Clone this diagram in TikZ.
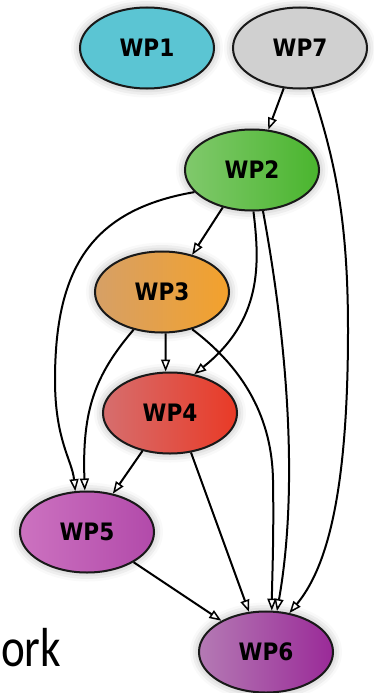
\documentclass[tikz,border=0pt]{standalone}
\usepackage{fontspec}
\setmainfont{DejaVu Sans}
\newfontfamily\wpfont{DejaVu Sans Condensed}[BoldFont={DejaVu Sans Condensed Bold}]
\newfontfamily\titlefont{Carlito}
\usetikzlibrary{arrows.meta,shapes.geometric,shadows.blur}

\definecolor{wpcyan}{HTML}{5BC5D3}
\definecolor{wpgray}{HTML}{D0D0D0}
\definecolor{wpgreenL}{HTML}{80C96C}
\definecolor{wpgreenD}{HTML}{4AB52E}
\definecolor{wporangeL}{HTML}{D6A066}
\definecolor{wporangeD}{HTML}{F3A12C}
\definecolor{wpredL}{HTML}{D66E6E}
\definecolor{wpredD}{HTML}{E93A26}
\definecolor{wppinkL}{HTML}{CC72C0}
\definecolor{wppinkD}{HTML}{B24AAA}
\definecolor{wppurpleL}{HTML}{B47AB4}
\definecolor{wppurpleD}{HTML}{9A2A98}

\tikzset{
  wp/.style={ellipse, draw=black!90, line width=2pt, inner sep=0pt,
    minimum width=134pt, minimum height=81pt,
    font=\wpfont\bfseries\fontsize{24}{24}\selectfont,
    blur shadow={shadow xshift=0pt, shadow yshift=0pt,
      shadow blur radius=9pt, shadow opacity=35}},
  grad/.style 2 args={shading=axis, shading angle=60,
    left color=#1, right color=#2},
  dep/.style={line width=2pt, draw=black,
    -{Triangle[open, length=12pt, width=9pt, line width=1.5pt]}},
}

\begin{document}
\begin{tikzpicture}[x=1pt, y=-1pt]
  \useasboundingbox (0,0) rectangle (374,693);

  % title fragment at the lower left
  \node[anchor=base west, inner sep=0pt, xscale=0.82,
    font=\titlefont\fontsize{55}{55}\selectfont] (title) at (1,666) {ork};

  % work packages
  \node[wp, fill=wpcyan] (WP1) at (147,48) {WP1};
  \node[wp, fill=wpgray] (WP7) at (300,48) {WP7};
  \node[wp, grad={wpgreenL}{wpgreenD}] (WP2) at (252,170) {WP2};
  \node[wp, grad={wporangeL}{wporangeD}] (WP3) at (162,292) {WP3};
  \node[wp, grad={wpredL}{wpredD}] (WP4) at (170,413) {WP4};
  \node[wp, grad={wppinkL}{wppinkD}] (WP5) at (87,532) {WP5};
  \node[wp, grad={wppurpleL}{wppurpleD}] (WP6) at (266,652) {WP6};

  % dependencies
  \draw[dep] (WP7.-112) -- (WP2.68);
  \draw[dep] (WP7.-74) .. controls (335,160) and (348,220) .. (348,330)
             .. controls (348,500) and (325,570) .. (WP6.59);
  \draw[dep] (WP2.-128) -- (WP3.51);
  \draw[dep] (WP2.-159) .. controls (90,210) and (55,270) .. (55,380)
             .. controls (55,440) and (72,460) .. (WP5.106);
  \draw[dep] (WP2.-88) .. controls (260,265) and (262,320) .. (WP4.58);
  \draw[dep] (WP2.-75) .. controls (285,330) and (300,480) .. (WP6.75);
  \draw[dep] (WP3.-85) -- (WP4.96);
  \draw[dep] (WP3.-127) .. controls (95,375) and (82,410) .. (WP5.93);
  \draw[dep] (WP3.-51) .. controls (246,370) and (272,420) .. (273,480)
             .. controls (274,540) and (272,580) .. (WP6.82);
  \draw[dep] (WP4.-126) -- (WP5.56);
  \draw[dep] (WP4.-62) -- (WP6.113);
  \draw[dep] (WP5.-33) -- (WP6.145);
\end{tikzpicture}
\end{document}
